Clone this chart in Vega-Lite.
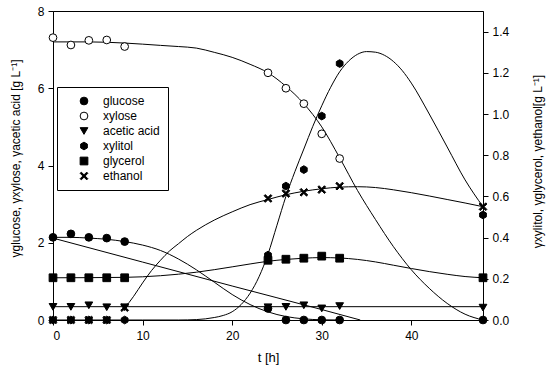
{
  "$schema": "https://vega.github.io/schema/vega-lite/v6.json",
  "width": 430,
  "height": 309,
  "autosize": {"type": "none"},
  "padding": {"left": 53, "top": 11, "right": 67, "bottom": 56},
  "config": {
    "font": "Liberation Sans",
    "view": {"stroke": "black", "strokeWidth": 1},
    "axis": {
      "grid": false, "domainColor": "black", "tickColor": "black", "labelColor": "black",
      "titleColor": "black", "labelFontSize": 12, "titleFontWeight": "normal", "tickSize": 5,
      "labelFont": "Liberation Sans", "titleFont": "Liberation Sans", "labelPadding": 4
    },
    "legend": {
      "title": null, "orient": "none", "legendX": 4, "legendY": 76, "strokeColor": "black", "fillColor": "white",
      "padding": 8, "symbolOffset": 13, "labelOffset": 13, "rowPadding": 3, "labelFontSize": 12, "labelColor": "black",
      "symbolSize": 60, "symbolStrokeWidth": 1
    }
  },
  "datasets": {
    "pointsL": [
      {"t": 0, "series": "glucose", "value": 2.14}, {"t": 2, "series": "glucose", "value": 2.23},
      {"t": 4, "series": "glucose", "value": 2.14}, {"t": 6, "series": "glucose", "value": 2.12},
      {"t": 8, "series": "glucose", "value": 2.03}, {"t": 24, "series": "glucose", "value": 0.3},
      {"t": 26, "series": "glucose", "value": 0}, {"t": 28, "series": "glucose", "value": 0},
      {"t": 30, "series": "glucose", "value": 0}, {"t": 32, "series": "glucose", "value": 0},
      {"t": 48, "series": "glucose", "value": 0},
      {"t": 0, "series": "xylose", "value": 7.31}, {"t": 2, "series": "xylose", "value": 7.12},
      {"t": 4, "series": "xylose", "value": 7.24}, {"t": 6, "series": "xylose", "value": 7.25},
      {"t": 8, "series": "xylose", "value": 7.08}, {"t": 24, "series": "xylose", "value": 6.4},
      {"t": 26, "series": "xylose", "value": 6.0}, {"t": 28, "series": "xylose", "value": 5.6},
      {"t": 30, "series": "xylose", "value": 4.82}, {"t": 32, "series": "xylose", "value": 4.18},
      {"t": 0, "series": "acetic acid", "value": 0.34}, {"t": 2, "series": "acetic acid", "value": 0.34},
      {"t": 4, "series": "acetic acid", "value": 0.38}, {"t": 6, "series": "acetic acid", "value": 0.33},
      {"t": 8, "series": "acetic acid", "value": 0.33}, {"t": 24, "series": "acetic acid", "value": 0.33},
      {"t": 26, "series": "acetic acid", "value": 0.34}, {"t": 28, "series": "acetic acid", "value": 0.38},
      {"t": 30, "series": "acetic acid", "value": 0.3}, {"t": 32, "series": "acetic acid", "value": 0.36},
      {"t": 48, "series": "acetic acid", "value": 0.32}
    ],
    "pointsR": [
      {"t": 0, "series": "xylitol", "value": 0}, {"t": 2, "series": "xylitol", "value": 0},
      {"t": 4, "series": "xylitol", "value": 0}, {"t": 6, "series": "xylitol", "value": 0},
      {"t": 8, "series": "xylitol", "value": 0}, {"t": 24, "series": "xylitol", "value": 0.315},
      {"t": 26, "series": "xylitol", "value": 0.65}, {"t": 28, "series": "xylitol", "value": 0.73},
      {"t": 30, "series": "xylitol", "value": 0.99}, {"t": 32, "series": "xylitol", "value": 1.245},
      {"t": 48, "series": "xylitol", "value": 0.51},
      {"t": 0, "series": "glycerol", "value": 0.205}, {"t": 2, "series": "glycerol", "value": 0.205},
      {"t": 4, "series": "glycerol", "value": 0.205}, {"t": 6, "series": "glycerol", "value": 0.205},
      {"t": 8, "series": "glycerol", "value": 0.205}, {"t": 24, "series": "glycerol", "value": 0.29},
      {"t": 26, "series": "glycerol", "value": 0.295}, {"t": 28, "series": "glycerol", "value": 0.3},
      {"t": 30, "series": "glycerol", "value": 0.31}, {"t": 32, "series": "glycerol", "value": 0.3},
      {"t": 48, "series": "glycerol", "value": 0.205},
      {"t": 0, "series": "ethanol", "value": 0}, {"t": 2, "series": "ethanol", "value": 0},
      {"t": 4, "series": "ethanol", "value": 0}, {"t": 6, "series": "ethanol", "value": 0},
      {"t": 8, "series": "ethanol", "value": 0.06}, {"t": 24, "series": "ethanol", "value": 0.59},
      {"t": 26, "series": "ethanol", "value": 0.614}, {"t": 28, "series": "ethanol", "value": 0.62},
      {"t": 30, "series": "ethanol", "value": 0.633}, {"t": 32, "series": "ethanol", "value": 0.65},
      {"t": 48, "series": "ethanol", "value": 0.55}
    ],
    "curvesL": [
      {"curve": "xylose", "t": 0, "value": 7.2}, {"curve": "xylose", "t": 4, "value": 7.2},
      {"curve": "xylose", "t": 8, "value": 7.17}, {"curve": "xylose", "t": 12, "value": 7.11},
      {"curve": "xylose", "t": 14, "value": 7.08}, {"curve": "xylose", "t": 16, "value": 7.04},
      {"curve": "xylose", "t": 18, "value": 6.93}, {"curve": "xylose", "t": 20, "value": 6.8},
      {"curve": "xylose", "t": 22, "value": 6.62}, {"curve": "xylose", "t": 24, "value": 6.4},
      {"curve": "xylose", "t": 26, "value": 6.05}, {"curve": "xylose", "t": 28, "value": 5.6},
      {"curve": "xylose", "t": 30, "value": 5.0}, {"curve": "xylose", "t": 32, "value": 4.2},
      {"curve": "xylose", "t": 34, "value": 3.35}, {"curve": "xylose", "t": 36, "value": 2.6},
      {"curve": "xylose", "t": 38, "value": 1.9}, {"curve": "xylose", "t": 40, "value": 1.3},
      {"curve": "xylose", "t": 42, "value": 0.82}, {"curve": "xylose", "t": 44, "value": 0.43},
      {"curve": "xylose", "t": 46, "value": 0.15}, {"curve": "xylose", "t": 48, "value": 0},
      {"curve": "glucose", "t": 0, "value": 2.14}, {"curve": "glucose", "t": 2, "value": 2.14},
      {"curve": "glucose", "t": 4, "value": 2.12}, {"curve": "glucose", "t": 6, "value": 2.09},
      {"curve": "glucose", "t": 8, "value": 2.03}, {"curve": "glucose", "t": 10, "value": 1.94},
      {"curve": "glucose", "t": 12, "value": 1.8}, {"curve": "glucose", "t": 14, "value": 1.58},
      {"curve": "glucose", "t": 16, "value": 1.3}, {"curve": "glucose", "t": 18, "value": 0.98},
      {"curve": "glucose", "t": 20, "value": 0.66}, {"curve": "glucose", "t": 22, "value": 0.4},
      {"curve": "glucose", "t": 24, "value": 0.21}, {"curve": "glucose", "t": 26, "value": 0.09},
      {"curve": "glucose", "t": 28, "value": 0.03}, {"curve": "glucose", "t": 30, "value": 0.005},
      {"curve": "glucose", "t": 32, "value": 0},
      {"curve": "glucose2", "t": 0, "value": 2.12}, {"curve": "glucose2", "t": 10, "value": 1.5},
      {"curve": "glucose2", "t": 20, "value": 0.88}, {"curve": "glucose2", "t": 30, "value": 0.27},
      {"curve": "glucose2", "t": 34.3, "value": 0},
      {"curve": "acetic acid", "t": 0, "value": 0.345}, {"curve": "acetic acid", "t": 48, "value": 0.345}
    ],
    "curvesR": [
      {"curve": "xylitol", "t": 0, "value": 0}, {"curve": "xylitol", "t": 10, "value": 0},
      {"curve": "xylitol", "t": 14, "value": 0}, {"curve": "xylitol", "t": 16, "value": 0.002},
      {"curve": "xylitol", "t": 18, "value": 0.012}, {"curve": "xylitol", "t": 19, "value": 0.022},
      {"curve": "xylitol", "t": 20, "value": 0.04}, {"curve": "xylitol", "t": 21, "value": 0.075},
      {"curve": "xylitol", "t": 22, "value": 0.13}, {"curve": "xylitol", "t": 23, "value": 0.21},
      {"curve": "xylitol", "t": 24, "value": 0.32}, {"curve": "xylitol", "t": 25, "value": 0.46},
      {"curve": "xylitol", "t": 26, "value": 0.6}, {"curve": "xylitol", "t": 27, "value": 0.72},
      {"curve": "xylitol", "t": 28, "value": 0.83}, {"curve": "xylitol", "t": 29, "value": 0.94},
      {"curve": "xylitol", "t": 30, "value": 1.04}, {"curve": "xylitol", "t": 31, "value": 1.13},
      {"curve": "xylitol", "t": 32, "value": 1.205}, {"curve": "xylitol", "t": 33, "value": 1.257},
      {"curve": "xylitol", "t": 34, "value": 1.29}, {"curve": "xylitol", "t": 35, "value": 1.303},
      {"curve": "xylitol", "t": 36, "value": 1.3}, {"curve": "xylitol", "t": 37, "value": 1.285},
      {"curve": "xylitol", "t": 38, "value": 1.255}, {"curve": "xylitol", "t": 39, "value": 1.21},
      {"curve": "xylitol", "t": 40, "value": 1.15}, {"curve": "xylitol", "t": 42, "value": 1.0},
      {"curve": "xylitol", "t": 44, "value": 0.84}, {"curve": "xylitol", "t": 46, "value": 0.68},
      {"curve": "xylitol", "t": 48, "value": 0.55},
      {"curve": "glycerol", "t": 0, "value": 0.205}, {"curve": "glycerol", "t": 8, "value": 0.207},
      {"curve": "glycerol", "t": 12, "value": 0.215}, {"curve": "glycerol", "t": 16, "value": 0.232},
      {"curve": "glycerol", "t": 20, "value": 0.258}, {"curve": "glycerol", "t": 22, "value": 0.272},
      {"curve": "glycerol", "t": 24, "value": 0.285}, {"curve": "glycerol", "t": 26, "value": 0.294},
      {"curve": "glycerol", "t": 28, "value": 0.3}, {"curve": "glycerol", "t": 30, "value": 0.303},
      {"curve": "glycerol", "t": 32, "value": 0.301}, {"curve": "glycerol", "t": 34, "value": 0.294},
      {"curve": "glycerol", "t": 36, "value": 0.282}, {"curve": "glycerol", "t": 38, "value": 0.266},
      {"curve": "glycerol", "t": 40, "value": 0.25}, {"curve": "glycerol", "t": 42, "value": 0.235},
      {"curve": "glycerol", "t": 44, "value": 0.222}, {"curve": "glycerol", "t": 46, "value": 0.211},
      {"curve": "glycerol", "t": 48, "value": 0.205},
      {"curve": "ethanol", "t": 8, "value": 0.057}, {"curve": "ethanol", "t": 9, "value": 0.115},
      {"curve": "ethanol", "t": 10, "value": 0.18}, {"curve": "ethanol", "t": 11, "value": 0.24},
      {"curve": "ethanol", "t": 12, "value": 0.29}, {"curve": "ethanol", "t": 13, "value": 0.335},
      {"curve": "ethanol", "t": 14, "value": 0.37}, {"curve": "ethanol", "t": 15, "value": 0.405},
      {"curve": "ethanol", "t": 16, "value": 0.435}, {"curve": "ethanol", "t": 18, "value": 0.485},
      {"curve": "ethanol", "t": 20, "value": 0.525}, {"curve": "ethanol", "t": 22, "value": 0.56},
      {"curve": "ethanol", "t": 24, "value": 0.585}, {"curve": "ethanol", "t": 26, "value": 0.608},
      {"curve": "ethanol", "t": 28, "value": 0.625}, {"curve": "ethanol", "t": 30, "value": 0.637},
      {"curve": "ethanol", "t": 32, "value": 0.645}, {"curve": "ethanol", "t": 34, "value": 0.647},
      {"curve": "ethanol", "t": 36, "value": 0.643}, {"curve": "ethanol", "t": 38, "value": 0.632},
      {"curve": "ethanol", "t": 40, "value": 0.618}, {"curve": "ethanol", "t": 42, "value": 0.602},
      {"curve": "ethanol", "t": 44, "value": 0.585}, {"curve": "ethanol", "t": 46, "value": 0.568},
      {"curve": "ethanol", "t": 48, "value": 0.55}
    ]
  },
  "layer": [
    {
      "layer": [
        {
          "data": {"name": "curvesL"},
          "mark": {"type": "line", "color": "black", "strokeWidth": 1, "interpolate": "monotone"},
          "encoding": {
            "x": {"field": "t", "type": "quantitative", "scale": {"domain": [0, 48], "nice": false},
                  "axis": {"values": [0, 10, 20, 30, 40], "title": "t [h]", "titleFontSize": 13, "labelPadding": 5, "titlePadding": 10}},
            "y": {"field": "value", "type": "quantitative", "scale": {"domain": [0, 8], "nice": false},
                  "axis": {"values": [0, 2, 4, 6, 8], "title": "γglucose, γxylose, γacetic acid [g L⁻¹]", "titleFontSize": 12,
                           "titleAngle": 270, "titleX": -38, "titleY": 147, "titleBaseline": "middle", "titleAnchor": "middle", "titleAlign": "center"}},
            "detail": {"field": "curve", "type": "nominal"}
          }
        },
        {
          "data": {"name": "pointsL"},
          "mark": {"type": "point", "filled": true, "strokeWidth": 1, "size": 60, "opacity": 1},
          "encoding": {
            "x": {"field": "t", "type": "quantitative", "scale": {"domain": [0, 48], "nice": false},
                  "axis": {"values": [0, 10, 20, 30, 40], "title": "t [h]", "titleFontSize": 13, "labelPadding": 5, "titlePadding": 10}},
            "y": {"field": "value", "type": "quantitative", "scale": {"domain": [0, 8], "nice": false},
                  "axis": {"values": [0, 2, 4, 6, 8], "title": "γglucose, γxylose, γacetic acid [g L⁻¹]", "titleFontSize": 12,
                           "titleAngle": 270, "titleX": -38, "titleY": 147, "titleBaseline": "middle", "titleAnchor": "middle", "titleAlign": "center"}},
            "shape": {"field": "series", "type": "nominal",
                      "scale": {"domain": ["glucose", "xylose", "acetic acid", "xylitol", "glycerol", "ethanol"],
                                "range": ["circle", "circle", "triangle-down", "M0,-1L0.866,-0.5L0.866,0.5L0,1L-0.866,0.5L-0.866,-0.5Z", "square", "M-1,-0.7L-0.7,-1L0,-0.3L0.7,-1L1,-0.7L0.3,0L1,0.7L0.7,1L0,0.3L-0.7,1L-1,0.7L-0.3,0Z"]}},
            "fill": {"field": "series", "type": "nominal",
                     "scale": {"domain": ["glucose", "xylose", "acetic acid", "xylitol", "glycerol", "ethanol"],
                               "range": ["black", "white", "black", "black", "black", "black"]}},
            "stroke": {"field": "series", "type": "nominal",
                       "scale": {"domain": ["glucose", "xylose", "acetic acid", "xylitol", "glycerol", "ethanol"],
                                 "range": ["black", "black", "black", "black", "black", "black"]}}
          }
        }
      ]
    },
    {
      "layer": [
        {
          "data": {"name": "curvesR"},
          "mark": {"type": "line", "color": "black", "strokeWidth": 1, "interpolate": "monotone"},
          "encoding": {
            "x": {"field": "t", "type": "quantitative", "scale": {"domain": [0, 48], "nice": false},
                  "axis": {"values": [0, 10, 20, 30, 40], "title": "t [h]", "titleFontSize": 13, "labelPadding": 5, "titlePadding": 10}},
            "y": {"field": "value", "type": "quantitative", "scale": {"domain": [0, 1.5], "nice": false},
                  "axis": {"orient": "right", "values": [0, 0.2, 0.4, 0.6, 0.8, 1.0, 1.2, 1.4], "format": ".1f",
                           "title": "γxylitol, γglycerol, γethanol[g L⁻¹]", "titleFontSize": 12,
                           "titleAngle": 270, "titleX": 54, "titleY": 150, "titleBaseline": "middle", "titleAnchor": "middle", "titleAlign": "center"}},
            "detail": {"field": "curve", "type": "nominal"}
          }
        },
        {
          "data": {"name": "pointsR"},
          "mark": {"type": "point", "filled": true, "strokeWidth": 1, "size": 60, "opacity": 1},
          "encoding": {
            "x": {"field": "t", "type": "quantitative", "scale": {"domain": [0, 48], "nice": false},
                  "axis": {"values": [0, 10, 20, 30, 40], "title": "t [h]", "titleFontSize": 13, "labelPadding": 5, "titlePadding": 10}},
            "y": {"field": "value", "type": "quantitative", "scale": {"domain": [0, 1.5], "nice": false},
                  "axis": {"orient": "right", "values": [0, 0.2, 0.4, 0.6, 0.8, 1.0, 1.2, 1.4], "format": ".1f",
                           "title": "γxylitol, γglycerol, γethanol[g L⁻¹]", "titleFontSize": 12,
                           "titleAngle": 270, "titleX": 54, "titleY": 150, "titleBaseline": "middle", "titleAnchor": "middle", "titleAlign": "center"}},
            "shape": {"field": "series", "type": "nominal",
                      "scale": {"domain": ["glucose", "xylose", "acetic acid", "xylitol", "glycerol", "ethanol"],
                                "range": ["circle", "circle", "triangle-down", "M0,-1L0.866,-0.5L0.866,0.5L0,1L-0.866,0.5L-0.866,-0.5Z", "square", "M-1,-0.7L-0.7,-1L0,-0.3L0.7,-1L1,-0.7L0.3,0L1,0.7L0.7,1L0,0.3L-0.7,1L-1,0.7L-0.3,0Z"]}},
            "fill": {"field": "series", "type": "nominal",
                     "scale": {"domain": ["glucose", "xylose", "acetic acid", "xylitol", "glycerol", "ethanol"],
                               "range": ["black", "white", "black", "black", "black", "black"]}},
            "stroke": {"field": "series", "type": "nominal",
                       "scale": {"domain": ["glucose", "xylose", "acetic acid", "xylitol", "glycerol", "ethanol"],
                                 "range": ["black", "black", "black", "black", "black", "black"]}}
          }
        }
      ]
    }
  ],
  "resolve": {"scale": {"y": "independent"}}
}
